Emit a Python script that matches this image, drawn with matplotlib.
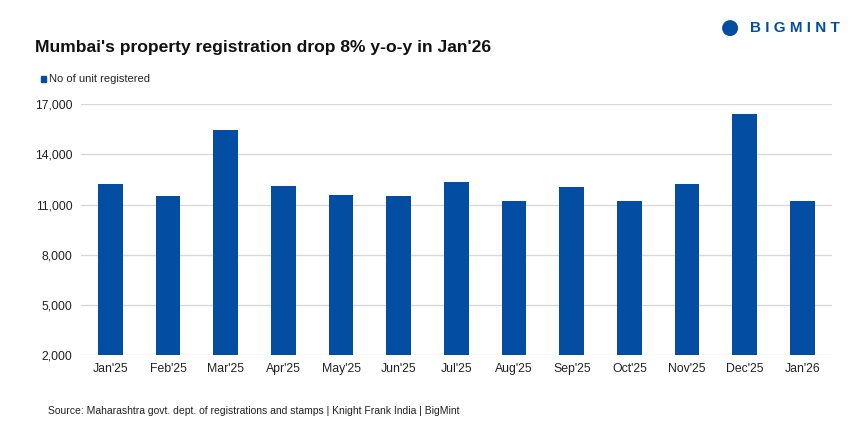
import matplotlib.pyplot as plt
from matplotlib.patches import Ellipse

months = ["Jan'25", "Feb'25", "Mar'25", "Apr'25", "May'25", "Jun'25", "Jul'25",
          "Aug'25", "Sep'25", "Oct'25", "Nov'25", "Dec'25", "Jan'26"]
units = [12220, 11500, 15450, 12100, 11560, 11500, 12340,
         11200, 12040, 11200, 12220, 16420, 11200]
yticks = [2000, 5000, 8000, 11000, 14000, 17000]

blue = "#034ea2"
plt.rcParams["font.family"] = ["Liberation Sans", "DejaVu Sans"]

fig = plt.figure(figsize=(8.64, 4.32), dpi=100)
ax = fig.add_axes([0.09375, 0.178, 0.869, 0.581])

x = range(len(months))
ax.bar(x, units, width=0.43, color=blue, zorder=3)
ax.set_xlim(-0.51, len(months) - 0.49)
ax.set_ylim(2000, 17000)
ax.set_yticks(yticks)
ax.set_yticklabels([f"{v:,}" for v in yticks], fontsize=8.8, color="#222222")
ax.set_xticks(list(x))
ax.set_xticklabels(months, fontsize=8.8, color="#222222")
ax.tick_params(length=0, pad=6)
ax.grid(axis="y", color="#d9d9d9", linewidth=1, zorder=0)
for s in ax.spines.values():
    s.set_visible(False)

fig.text(0.04, 0.891, "Mumbai's property registration drop 8% y-o-y in Jan'26",
         fontsize=12.6, fontweight="bold", color="#111111", va="center")
fig.patches.append(plt.Rectangle((0.047, 0.811), 0.0065, 0.013, color=blue,
                                 transform=fig.transFigure, figure=fig))
fig.text(0.057, 0.818, "No of unit registered", fontsize=8, color="#222222", va="center")
fig.text(0.056, 0.049, "Source: Maharashtra govt. dept. of registrations and stamps | Knight Frank India | BigMint",
         fontsize=7.5, color="#222222", va="center")

# logo
fig.patches.append(Ellipse((0.845, 0.935), 0.0185, 0.037, transform=fig.transFigure,
                           facecolor=blue, edgecolor="none", figure=fig))
fig.text(0.868, 0.935, "B I G M I N T", fontsize=11, fontweight="bold", color=blue,
         va="center")

fig.savefig("out.png", dpi=100)
